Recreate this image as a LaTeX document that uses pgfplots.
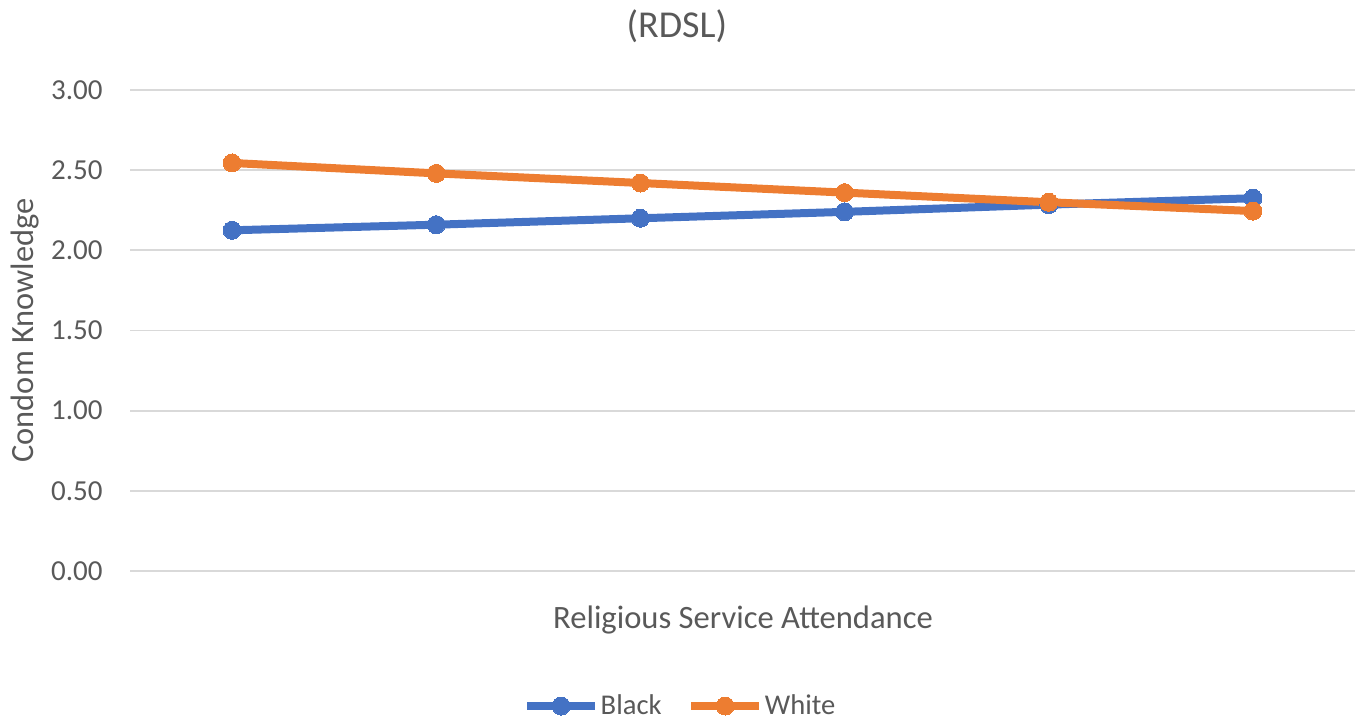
\documentclass[border=0pt]{standalone}
\usepackage{pgfplots}
\pgfplotsset{compat=1.18}
\usepackage{fontspec}
\setmainfont{Carlito}
\definecolor{txtgray}{HTML}{595959}
\definecolor{gridgray}{HTML}{D9D9D9}
\definecolor{cblue}{HTML}{4472C4}
\definecolor{corange}{HTML}{ED7D31}
\begin{document}
\begin{tikzpicture}
\path[use as bounding box] (0,0) rectangle (681.5pt,-361.5pt);
\begin{axis}[
  at={(65pt,-285.5pt)}, anchor=south west,
  scale only axis, width=612.5pt, height=240.5pt,
  xmin=0.5, xmax=6.5, ymin=0, ymax=3,
  ytick={0,0.5,1,1.5,2,2.5,3},
  xtick=\empty,
  axis line style={draw=none},
  major tick length=0pt,
  ymajorgrids, grid style={gridgray, line width=0.9pt},
  /pgf/number format/assume math mode=true,
  yticklabel={\pgfmathprintnumber[fixed,fixed zerofill,precision=2]{\tick}},
  yticklabel style={font=\fontsize{14.5}{16}\selectfont, text=txtgray, anchor=east, inner sep=0pt, xshift=-13.5pt},
  clip=false,
  legend columns=2,
  legend style={draw=none, fill=none, at={(0.449,-0.2807)}, anchor=center,
    font=\fontsize{14.3}{17}\selectfont, text=txtgray,
    /tikz/every even column/.append style={column sep=12pt},
    inner sep=0pt, nodes={inner sep=0.8pt}},
  legend image code/.code={\draw[mark repeat=2,mark phase=2,#1] plot coordinates {(0pt,0pt) (17pt,0pt) (34pt,0pt)};},
]
\addplot[cblue, line width=4pt, mark=*, mark size=4.5pt, mark options={line width=0pt}]
  coordinates {(1,2.125) (2,2.16) (3,2.20) (4,2.24) (5,2.285) (6,2.325)};
\addlegendentry{Black}
\addplot[corange, line width=4pt, mark=*, mark size=4.5pt, mark options={line width=0pt}]
  coordinates {(1,2.545) (2,2.48) (3,2.42) (4,2.36) (5,2.30) (6,2.245)};
\addlegendentry{White}
\node[font=\fontsize{19}{22}\selectfont, text=txtgray] at (axis description cs:0.4465,1.132) {(RDSL)};
\node[font=\fontsize{16.3}{19}\selectfont, text=txtgray] at (axis description cs:0.5004,-0.1019) {Religious Service Attendance};
\node[font=\fontsize{16.2}{19}\selectfont, text=txtgray, rotate=90] at (axis description cs:-0.0857,0.5) {Condom Knowledge};
\end{axis}
\end{tikzpicture}
\end{document}
